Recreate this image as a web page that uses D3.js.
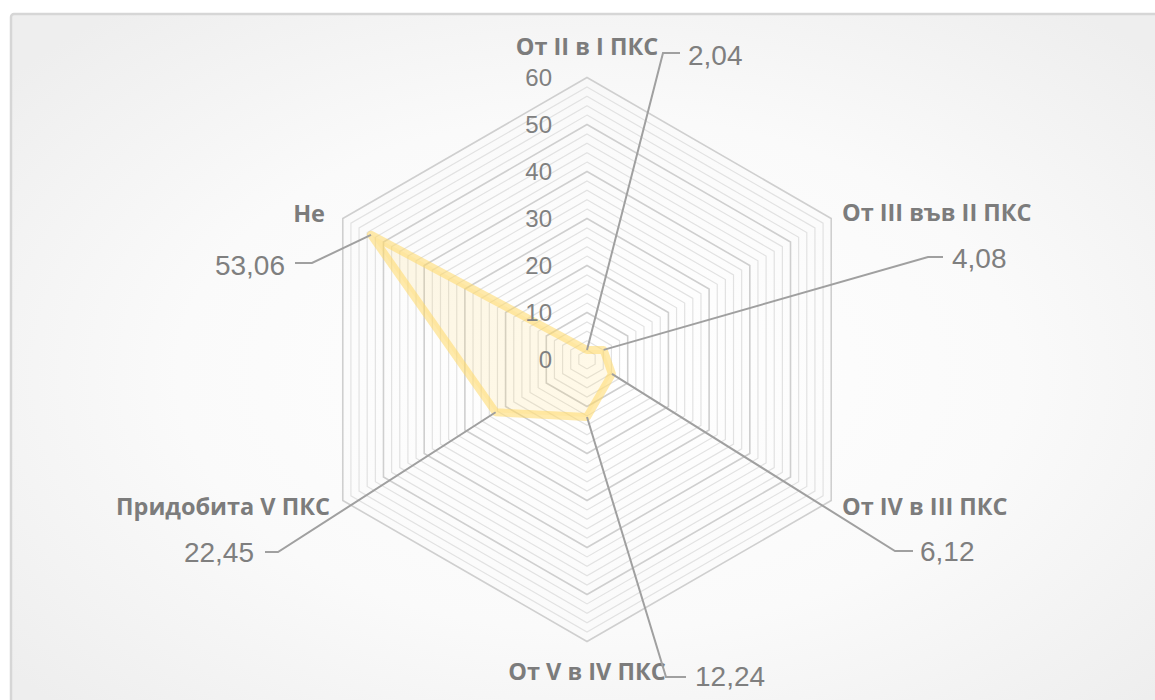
<!DOCTYPE html>
<html>
<head>
<meta charset="utf-8">
<script src="https://cdn.jsdelivr.net/npm/d3@7/dist/d3.min.js"></script>
<style>
  html, body { margin: 0; padding: 0; background: #ffffff; }
  svg { display: block; }
</style>
</head>
<body>
<svg id="chart" width="1155" height="700"></svg>
<script>
// Radar chart: distribution by qualification level (ПКС)
const categories = ["От II в I ПКС", "От III във II ПКС", "От IV в III ПКС", "От V в IV ПКС", "Придобита V ПКС", "Не"];
const values = [2.04, 4.08, 6.12, 12.24, 22.45, 53.06];
const valueLabels = ["2,04", "4,08", "6,12", "12,24", "22,45", "53,06"];
const tickValues = [0, 10, 20, 30, 40, 50, 60];
const minorStep = 2;

const W = 1155, H = 700;
const cx = 587, cy = 359.5, R = 282;

const svg = d3.select("#chart");

// panel background with soft radial shading
const defs = svg.append("defs");
const grad = defs.append("radialGradient").attr("id", "bg")
  .attr("cx", "50%").attr("cy", "50%").attr("r", "65%");
grad.append("stop").attr("offset", "0%").attr("stop-color", "#ffffff");
grad.append("stop").attr("offset", "55%").attr("stop-color", "#fafafa");
grad.append("stop").attr("offset", "100%").attr("stop-color", "#eeeeee");

svg.append("rect").attr("x", 11).attr("y", 14).attr("width", W + 20).attr("height", H + 20)
  .attr("rx", 3).attr("fill", "url(#bg)").attr("stroke", "#d6d6d6").attr("stroke-width", 2.5);

const r = d3.scaleLinear().domain([0, 60]).range([0, R]);
const angle = d3.scalePoint().domain(categories).range([0, 2 * Math.PI * (categories.length - 1) / categories.length]);

function pt(cat, v) {
  const a = angle(cat);
  return [cx + r(v) * Math.sin(a), cy - r(v) * Math.cos(a)];
}

// hexagonal grid: major rings at each tick, minor rings in between
const ringVals = d3.range(0, 60 + 1e-9, minorStep).filter(v => v > 0);
const grid = svg.append("g");
ringVals.forEach(v => {
  const major = tickValues.includes(v);
  grid.append("polygon")
    .attr("points", categories.map(c => pt(c, v).join(",")).join(" "))
    .attr("fill", "none")
    .attr("stroke", major ? "#cfcfcf" : "#e2e2e2")
    .attr("stroke-width", major ? 1.6 : 1.2);
});

// series
const line = d3.line().curve(d3.curveLinearClosed);
const pts = categories.map((c, i) => pt(c, values[i]));
svg.append("path").attr("d", line(pts))
  .attr("fill", "#ffd966").attr("fill-opacity", 0.15)
  .attr("stroke", "#ffd966").attr("stroke-opacity", 0.55)
  .attr("stroke-width", 8).attr("stroke-linejoin", "round");

// tick labels
svg.append("g").selectAll("text").data(tickValues).join("text")
  .attr("x", cx - 35).attr("y", d => cy - r(d))
  .attr("text-anchor", "end").attr("dy", "0.35em")
  .attr("font-family", "Liberation Sans, Arial, sans-serif").attr("font-size", 24)
  .attr("fill", "#808080").text(d => d);

// category labels
const catLayout = [
  { x: cx, y: 47, anchor: "middle" },
  { x: 842, y: 213, anchor: "start" },
  { x: 842, y: 507, anchor: "start" },
  { x: cx, y: 672, anchor: "middle" },
  { x: 330, y: 507, anchor: "end" },
  { x: 325, y: 214, anchor: "end" }
];
svg.append("g").selectAll("text").data(categories).join("text")
  .attr("x", (d, i) => catLayout[i].x).attr("y", (d, i) => catLayout[i].y)
  .attr("text-anchor", (d, i) => catLayout[i].anchor).attr("dy", "0.35em")
  .attr("font-family", "Open Sans, sans-serif").attr("font-weight", 700).attr("font-size", 23.5)
  .attr("fill", "#7c7c7c").text(d => d);

// value labels with leader lines
const valLayout = [
  { bend: [663, 53], end: [680, 53], tx: 688, ty: 55, anchor: "start" },
  { bend: [928, 257], end: [943, 257], tx: 952, ty: 258, anchor: "start" },
  { bend: [895, 551], end: [913, 551], tx: 920, ty: 551, anchor: "start" },
  { bend: [666, 677], end: [686, 677], tx: 695, ty: 676, anchor: "start" },
  { bend: [278, 552], end: [265, 552], tx: 254, ty: 552, anchor: "end" },
  { bend: [312, 263], end: [295, 263], tx: 285, ty: 265, anchor: "end" }
];
const leaders = svg.append("g");
categories.forEach((c, i) => {
  const L = valLayout[i];
  leaders.append("path")
    .attr("d", d3.line()([pt(c, values[i]), L.bend, L.end]))
    .attr("fill", "none").attr("stroke", "#a0a0a0").attr("stroke-width", 2);
  leaders.append("text")
    .attr("x", L.tx).attr("y", L.ty).attr("dy", "0.35em")
    .attr("text-anchor", L.anchor)
    .attr("font-family", "Liberation Sans, Arial, sans-serif").attr("font-size", 28)
    .attr("fill", "#7f7f7f").text(valueLabels[i]);
});
</script>
</body>
</html>
